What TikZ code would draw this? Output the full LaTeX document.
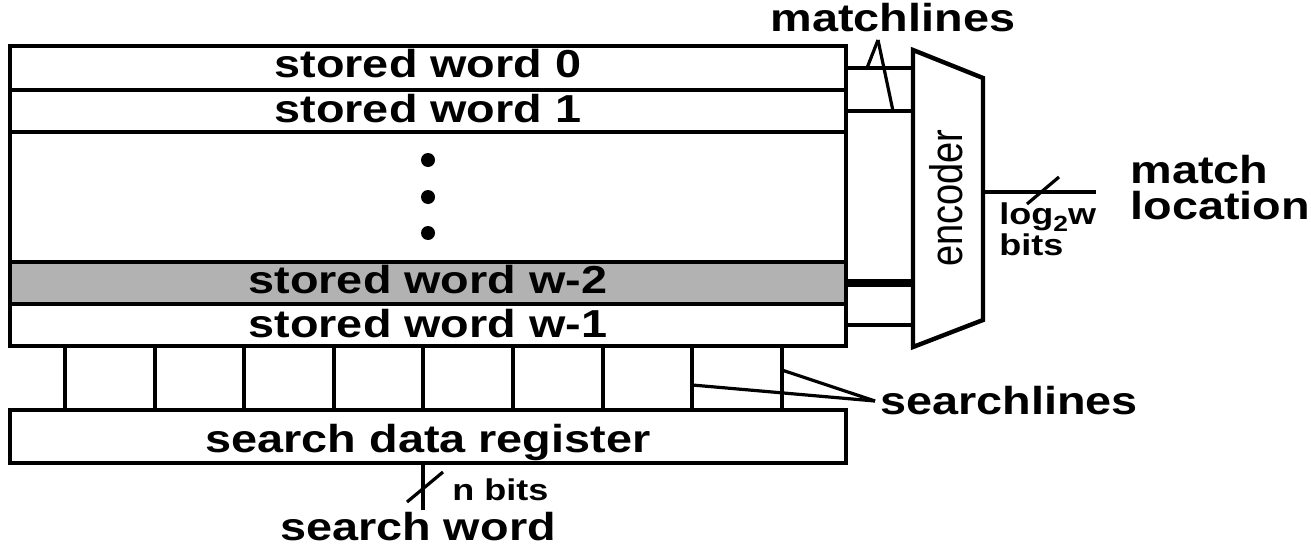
\documentclass[tikz,border=0pt]{standalone}
\usepackage{fontspec}
\setmainfont{Liberation Sans}
\newfontfamily\lblfont[FakeStretch=1.2]{Liberation Sans}
\begin{document}
\begin{tikzpicture}[x=0.5pt,y=-0.5pt,
  row/.style={draw, line width=2pt, minimum width=418pt, inner sep=0pt, outer sep=0pt},
  wire/.style={line width=1.6pt},
  buswire/.style={line width=4pt},
  big/.style={font=\lblfont\bfseries\fontsize{19.5}{18}\selectfont, inner sep=0pt},
  small/.style={font=\lblfont\bfseries\fontsize{15}{15.5}\selectfont, inner sep=0pt}]
\useasboundingbox (0,0) rectangle (1311,546);

% memory rows
\node[row, minimum height=22pt] (w0) at (428,68) {};
\node[row, minimum height=21pt] (w1) at (428,111) {};
\node[row, minimum height=65pt] (wd) at (428,197) {};
\node[row, minimum height=21pt, fill=black!30] (w2) at (428,283) {};
\node[row, minimum height=21pt] (w3) at (428,325) {};
\node[big, anchor=base] (t0) at (428,77) {stored word 0};
\node[big, anchor=base] (t1) at (428,122) {stored word 1};
\node[big, anchor=base] (t2) at (428,293) {stored word w-2};
\node[big, anchor=base] (t3) at (428,337) {stored word w-1};
\foreach \y in {160,197,233} \fill (428,\y) circle (3.5pt);

% search data register
\node[row, minimum height=26.5pt] (reg) at (428,436.5) {};
\node[big, anchor=base] (treg) at (428,452) {search data register};

% searchlines between the array and the register
\foreach \i/\x in {0/65,1/154.6,2/244.2,3/333.8,4/423.4,5/513,6/602.6,7/692.2,8/781.8} {
  \coordinate (c\i) at (\x,0);
  \draw[line width=2pt] (c\i |- w3.south) -- (c\i |- reg.north);
}
\node[big, anchor=base west] (slbl) at (880,414) {searchlines};
\coordinate (sp) at (875,401);
\coordinate (s8) at (781.8,370);
\coordinate (s7) at (692.2,385);
\draw[wire] (sp) -- (s8);
\draw[wire] (sp) -- (s7);

% encoder
\coordinate (eL) at (913,0);
\coordinate (eR) at (983,0);
\draw[line width=2.2pt, line join=miter] (913,50) -- (983,78) -- (983,320) -- (913,347) -- cycle;
\node[inner sep=0pt, rotate=90] (enc) at (946,198)
  {\scalebox{1}[1.2]{\fontsize{19}{19}\selectfont encoder}};

% matchlines
\draw[wire] (w0.east) -- (w0.east -| eL);
\draw[wire] (w1.east) -- (w1.east -| eL);
\draw[buswire] (w2.east) -- (w2.east -| eL);
\draw[wire] (w3.east) -- (w3.east -| eL);
\node[big, anchor=base] (mlbl) at (893,32) {matchlines};
\coordinate (mp) at (878,40);
\draw[wire] (mp) -- (867,68);
\draw[wire] (mp) -- (893,111);

% encoder output
\coordinate (eo) at (983,192);
\coordinate (oend) at (1096,192);
\draw[wire] (eo) -- (oend);
\draw[wire] (1027,204) -- (1059,177);
\node[small, anchor=base west, align=left] (lw) at (999,255)
  {log\raisebox{-0.25em}{\fontsize{11}{11}\selectfont 2}w\\bits};
\node[big, anchor=base west, align=left] (mloc) at (1130,219) {match\\location};

% search word input
\coordinate (nb) at (423,510);
\draw[wire] (reg.south -| nb) -- (nb);
\draw[wire] (407,502) -- (443,472);
\node[small, anchor=base west] (nbl) at (452,500) {n bits};
\node[big, anchor=base] (sw) at (418,540) {search word};
\end{tikzpicture}
\end{document}
